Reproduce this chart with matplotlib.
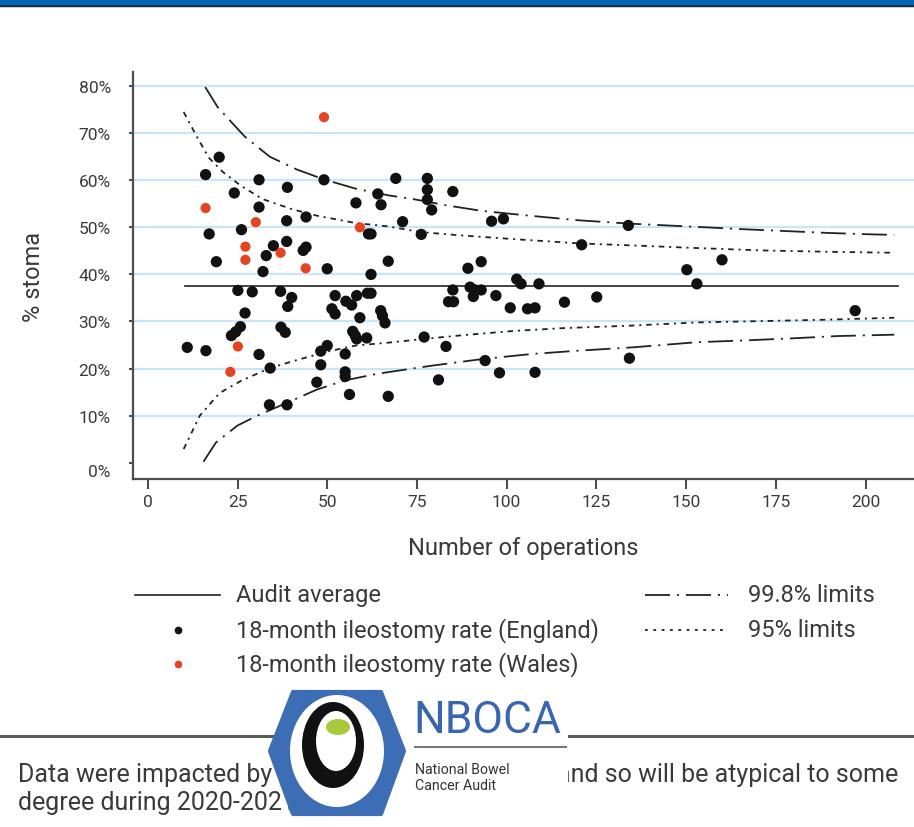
import matplotlib
matplotlib.use("Agg")
import matplotlib.pyplot as plt
import matplotlib.transforms as mtransforms
from matplotlib.patches import Rectangle, Ellipse, Polygon

plt.rcParams['font.family'] = ['Roboto', 'DejaVu Sans']
plt.rcParams['lines.scale_dashes'] = False

# ---------------- data ----------------
eng_n = [19.9, 16.1, 31.0, 24.1, 38.9, 31.0, 38.7, 17.1, 26.1, 35.0, 38.7, 33.0, 19.1, 32.1,
         25.1, 29.1, 37.0, 40.1, 39.0, 27.1, 25.8, 24.5, 23.3, 37.1, 38.3, 11.0, 16.2, 31.0,
         34.1, 33.9, 38.8, 49.1, 69.1, 77.9, 64.1, 77.9, 77.9, 79.1, 58.0, 65.0, 44.1, 71.0,
         61.5, 62.2, 76.2, 44.1, 43.3, 50.0, 62.2, 67.0, 52.2, 55.2, 56.8, 58.2, 61.2, 62.2,
         51.3, 52.2, 59.1, 64.9, 65.4, 66.1, 57.1, 57.8, 58.2, 61.0, 77.0, 50.0, 48.2, 55.0,
         48.2, 55.0, 55.0, 47.1, 56.2, 67.0, 85.0, 95.8, 99.1, 92.9, 89.2, 102.8, 104.0, 109.0,
         85.0, 89.8, 91.2, 92.9, 90.7, 83.8, 85.2, 97.0, 101.0, 105.8, 107.9, 83.1, 94.0, 98.0,
         107.9, 81.0, 116.1, 125.1, 134.2, 120.9, 133.9, 150.2, 160.0, 153.0, 197.1]
eng_rate = [64.9, 61.2, 60.1, 57.3, 58.5, 54.3, 51.4, 48.6, 49.5, 46.1, 47.0, 44.0, 42.7, 40.6,
            36.6, 36.3, 36.4, 35.1, 33.2, 31.8, 28.9, 27.8, 27.0, 28.8, 27.7, 24.5, 23.8, 23.0,
            20.1, 12.3, 12.3, 60.1, 60.4, 60.4, 57.1, 58.0, 55.9, 53.7, 55.2, 54.8, 52.2, 51.2,
            48.6, 48.6, 48.5, 45.8, 45.1, 41.2, 40.0, 42.8, 35.5, 34.3, 33.5, 35.5, 36.0, 36.0,
            32.7, 31.6, 30.8, 32.3, 31.2, 29.7, 27.9, 27.0, 26.3, 26.5, 26.7, 24.9, 23.7, 23.1,
            20.8, 19.3, 18.3, 17.1, 14.5, 14.1, 57.6, 51.3, 51.8, 42.7, 41.3, 39.0, 38.0, 38.0,
            36.7, 37.3, 36.7, 36.7, 35.3, 34.2, 34.2, 35.5, 32.9, 32.7, 32.9, 24.7, 21.7, 19.1,
            19.2, 17.6, 34.1, 35.2, 22.2, 46.3, 50.4, 41.0, 43.1, 38.0, 32.3]
wal_n = [16.1, 30.1, 27.2, 27.2, 37.0, 25.1, 23.0, 49.1, 59.1, 44.0]
wal_rate = [54.1, 51.1, 45.9, 43.1, 44.6, 24.7, 19.3, 73.4, 50.0, 41.3]

audit_avg = 37.6
avg_n = [10.4, 209.0]

up998_n = [16, 19.5, 23, 27, 34, 41.5, 49, 58, 67, 74, 83, 93, 106, 120, 134, 153, 166, 178, 190, 202, 208]
up998 = [79.8, 75.5, 72.6, 69.3, 65.0, 62.3, 60.2, 58.2, 56.8, 56.0, 54.7, 53.5, 52.5, 51.5, 50.8,
         50.1, 49.6, 49.2, 48.8, 48.5, 48.4]
up95_n = [10, 13.5, 17, 21, 26, 32, 40, 47, 58, 67, 76, 87, 102, 120, 137, 153, 171, 190, 208]
up95 = [74.5, 69.5, 64.8, 61.7, 58.8, 56.0, 53.9, 52.5, 50.9, 50.2, 49.0, 48.3, 47.5, 46.6, 46.1,
        45.6, 45.1, 44.8, 44.6]
lo95_n = [10, 14.5, 20, 26, 34, 41.5, 50, 58, 67, 77, 88, 102, 116, 134, 153, 172, 190, 208]
lo95 = [2.9, 10.0, 14.8, 17.4, 20.1, 21.8, 23.6, 24.9, 25.5, 26.3, 27.1, 28.0, 28.6, 29.1, 29.8,
        30.1, 30.4, 30.8]
lo998_n = [15.5, 19, 25, 30.5, 39, 47, 55, 64, 79, 93, 107, 120, 135, 153, 167, 179, 192, 208]
lo998 = [0.2, 4.3, 7.9, 10.0, 12.8, 15.5, 17.5, 18.9, 20.6, 22.0, 23.1, 23.8, 24.5, 25.6, 26.0,
         26.4, 26.9, 27.2]

x_ticks = [0, 25, 50, 75, 100, 125, 150, 175, 200]
y_ticks = [0, 10, 20, 30, 40, 50, 60, 70, 80]
y_labels = ["0%", "10%", "20%", "30%", "40%", "50%", "60%", "70%", "80%"]

# ---------------- styles ----------------
W, H = 914, 828
TXT = "#3a3a3a"
LINE = "#222222"
RED = "#e5441f"
GRID = "#cbe5f6"
AX = "#4d4d4d"
DASH998 = (0, (18, 5, 1.5, 5))
DASH95 = (0, (4, 3.5, 1.5, 3.5))
BIG = 17
FOOT = 18

fig = plt.figure(figsize=(W / 100, H / 100), dpi=100)
ax = fig.add_axes([133 / W, 1 - 480 / H, (W - 133) / W, (480 - 73) / H])
ax.set_xlim(-4.12, 213.5)
ax.set_ylim(-3.46, 83.0)

for s in ["top", "right"]:
    ax.spines[s].set_visible(False)
for s in ["left", "bottom"]:
    ax.spines[s].set_color(AX)
    ax.spines[s].set_linewidth(1.6)

ax.set_xticks(x_ticks)
ax.set_yticks(y_ticks)
ax.set_yticklabels(y_labels)
ax.tick_params(axis="x", length=7, width=1.5, color=AX, labelsize=12.5, labelcolor=TXT, pad=4)
ax.tick_params(axis="y", length=3, width=1.5, color=AX, labelsize=12.5, labelcolor=TXT, pad=13)
# the "0%" label sits slightly low in the reference
lab0 = ax.get_yticklabels()[0]
lab0.set_transform(lab0.get_transform() + mtransforms.ScaledTranslation(0, -7 / 100, fig.dpi_scale_trans))

ax.yaxis.grid(True, color=GRID, lw=1.6)
ax.set_axisbelow(True)
ax.yaxis.get_gridlines()[0].set_visible(False)

ax.plot(avg_n, [audit_avg, audit_avg], color=LINE, lw=1.2, zorder=2)
ax.plot(up998_n, up998, color=LINE, lw=1.3, ls=DASH998, zorder=2)
ax.plot(lo998_n, lo998, color=LINE, lw=1.3, ls=DASH998, zorder=2)
ax.plot(up95_n, up95, color=LINE, lw=1.3, ls=DASH95, zorder=2)
ax.plot(lo95_n, lo95, color=LINE, lw=1.3, ls=DASH95, zorder=2)

ax.scatter(eng_n, eng_rate, s=66, color="#111111", edgecolors="none", zorder=3)
ax.scatter(wal_n, wal_rate, s=54, color=RED, edgecolors="none", zorder=4)

ax.set_xlabel("Number of operations", fontsize=BIG, color=TXT, labelpad=19)
ax.set_ylabel("% stoma", fontsize=BIG, color=TXT, labelpad=24)

# ---------------- overlay (pixel coordinates) ----------------
ov = fig.add_axes([0, 0, 1, 1], zorder=5)
ov.set_xlim(0, W)
ov.set_ylim(H, 0)
ov.axis("off")
ov.patch.set_alpha(0)

# header bar
ov.add_patch(Rectangle((0, 0), W, 5.5, color="#0067b4", lw=0))
ov.add_patch(Rectangle((0, 5.5), W, 2.5, color="#1b2b44", lw=0))
ov.add_patch(Rectangle((0, 8), W, 1.2, color="#c9ced6", lw=0))

# legend
ov.plot([135, 220], [596, 596], color=LINE, lw=1.2)
ov.text(236, 596, "Audit average", fontsize=BIG, color=TXT, va="center", ha="left")
ov.plot([178], [631], "o", color="#111111", ms=4.5)
ov.text(236, 631, "18-month ileostomy rate (England)", fontsize=BIG, color=TXT, va="center", ha="left")
ov.plot([178], [665], "o", color=RED, ms=4.5)
ov.text(236, 665, "18-month ileostomy rate (Wales)", fontsize=BIG, color=TXT, va="center", ha="left")
ov.plot([645, 728], [596, 596], color=LINE, lw=1.3, ls=DASH998)
ov.text(748, 596, "99.8% limits", fontsize=BIG, color=TXT, va="center", ha="left")
ov.plot([645, 728], [631, 631], color=LINE, lw=1.3, ls=(0, (2, 4)))
ov.text(748, 631, "95% limits", fontsize=BIG, color=TXT, va="center", ha="left")

# footer
ov.plot([0, W], [737, 737], color="#5a5a5a", lw=2.2)
ov.text(18, 775, "Data were impacted by", fontsize=FOOT, color=TXT, va="center", ha="left")
ov.text(898, 775, "and so will be atypical to some", fontsize=FOOT, color=TXT, va="center", ha="right")
ov.text(18, 803, "degree during 2020-2021.", fontsize=FOOT, color=TXT, va="center", ha="left")

# logo
ov.add_patch(Rectangle((392, 688), 176, 130, color="white", lw=0, zorder=6))
hexagon = [(270, 752), (293, 693), (381, 693), (404, 752), (381, 815), (293, 815)]
ov.add_patch(Polygon(hexagon, closed=True, facecolor="#3d6db5", edgecolor="#3d6db5",
                     lw=3, joinstyle="round", zorder=7))
ov.add_patch(Ellipse((337, 752), 94, 112, color="white", lw=0, zorder=8))
ov.add_patch(Ellipse((333, 746), 62, 86, color="#111111", lw=0, zorder=9))
ov.add_patch(Ellipse((336, 742), 40, 60, color="white", lw=0, zorder=10))
ov.add_patch(Ellipse((338, 728), 24, 16, color="#a9c83b", lw=0, zorder=11))
ov.text(413, 721, "NBOCA", fontsize=32, color="#3a66b0", va="center", ha="left", zorder=12)
ov.plot([415, 566], [748, 748], color="#777777", lw=1.5, zorder=12)
ov.text(415, 770, "National Bowel", fontsize=10.2, color="#333333", va="center", ha="left", zorder=12)
ov.text(415, 786, "Cancer Audit", fontsize=10.2, color="#333333", va="center", ha="left", zorder=12)

fig.savefig("out.png", dpi=100)
